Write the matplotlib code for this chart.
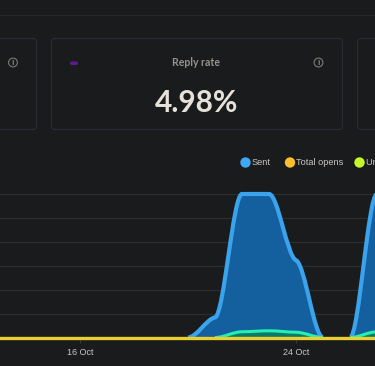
import numpy as np
import matplotlib
matplotlib.use("Agg")

import matplotlib.pyplot as plt
from matplotlib.patches import FancyBboxPatch, PathPatch, Circle
from matplotlib.path import Path

W, H = 375, 366
BG = "#1a1b1d"

days = [12, 13, 14, 15, 16, 17, 18, 19, 20, 21, 22, 23, 24, 25, 26, 27, 28]
sent = [0, 0, 0, 0, 0, 0, 0, 0, 0, 84, 600, 600, 323, 0, 0, 600, 600]
teal = [0, 0, 0, 0, 0, 0, 0, 0, 0, 0, 24, 28, 22, 0, 0, 24, 28]
opens = [0] * len(days)

grid_values = [100, 200, 300, 400, 500, 600]
tick_days = [16, 24]
tick_labels = ["16 Oct", "24 Oct"]
legend_names = ["Sent", "Total opens", "Unique opens"]
legend_colors = ["#3fa9f5", "#fdbd2c", "#c4f82a"]
card_title = "Reply rate"
card_value = "4.98%"


def smooth_path(x, y, skip_zero, flat=0.15):
    # curve through the points, tangents nearly flat like the original chart
    x = np.array(x, dtype=float)
    y = np.array(y, dtype=float)
    d = np.diff(y) / np.diff(x)
    m = np.zeros(len(x))
    for i in range(1, len(x) - 1):
        if d[i - 1] * d[i] > 0:
            m[i] = flat * 2 * d[i - 1] * d[i] / (d[i - 1] + d[i])
    verts = []
    codes = []
    last = None
    for i in range(len(x) - 1):
        # stretches at zero are left out of the line, the yellow one covers them
        if skip_zero and y[i] == 0 and y[i + 1] == 0:
            continue
        if last != i:
            verts.append((x[i], y[i]))
            codes.append(Path.MOVETO)
        h = (x[i + 1] - x[i]) / 3
        verts += [(x[i] + h, y[i] + m[i] * h),
                  (x[i + 1] - h, y[i + 1] - m[i + 1] * h),
                  (x[i + 1], y[i + 1])]
        codes += [Path.CURVE4] * 3
        last = i + 1
    return verts, codes


def draw_series(ax, x, y, line, fill, lw, z):
    verts, codes = smooth_path(x, y, False)
    area = Path(verts + [(x[-1], 0), (x[0], 0), (x[0], 0)],
                codes + [Path.LINETO, Path.LINETO, Path.CLOSEPOLY])
    ax.add_patch(PathPatch(area, facecolor=fill, edgecolor="none", zorder=z))
    verts, codes = smooth_path(x, y, True)
    ax.add_patch(PathPatch(Path(verts, codes), facecolor="none", edgecolor=line,
                           lw=lw, zorder=z + 1, capstyle="butt"))


fig = plt.figure(figsize=(W / 100, H / 100), dpi=100, facecolor=BG)

# page layer, in pixels
page = fig.add_axes([0, 0, 1, 1])
page.set_xlim(0, W)
page.set_ylim(H, 0)
page.axis("off")

page.plot([0, W], [14.5, 14.5], color="#25272d", lw=0.8)

for x0, x1 in [(-60, 36.5), (51.5, 342.5), (357.5, 460)]:
    page.add_patch(FancyBboxPatch((x0, 38.5), x1 - x0, 91,
                                  boxstyle="round,pad=0,rounding_size=4",
                                  lw=0.8, ec="#2a2c33", fc="none"))

page.add_patch(FancyBboxPatch((70, 61.5), 8, 3.5, boxstyle="round,pad=0,rounding_size=1.7",
                              lw=0, fc="#5c1d8f"))
page.text(196.5, 62, card_title, color="#97928a", fontsize=7.6, fontweight="bold",
          family="Lato", ha="center", va="center")
page.text(196.5, 103, card_value, color="#e6e2da", fontsize=21.5, fontweight="bold",
          family="Lato", ha="center", va="center")

for cx in [13, 318.5]:
    page.add_patch(Circle((cx, 62.5), 4.4, fc="none", ec="#7d7a74", lw=0.8))
    page.text(cx, 62.7, "i", color="#7d7a74", fontsize=5, fontweight="bold",
              family="DejaVu Sans", ha="center", va="center")

legend_x = [245.5, 290, 359.5]
for lx, name, col in zip(legend_x, legend_names, legend_colors):
    page.add_patch(Circle((lx, 162.5), 5.2, fc=col, ec="none"))
    page.text(lx + 6.5, 162.7, name, color="#c9c7c2", fontsize=6.6,
              family="Liberation Sans", ha="left", va="center")

# chart layer: 27 px per day, 16 Oct at x=80, zero at y=337.5
bottom_px = 340
top_px = 180
chart = fig.add_axes([0, (H - bottom_px) / H, 1, (bottom_px - top_px) / H])
chart.patch.set_alpha(0)
chart.set_xlim(16 - 80 / 27, 16 + (W - 80) / 27)
per_px = 600 / 143.5
chart.set_ylim(-(bottom_px - 337.5) * per_px, (337.5 - top_px) * per_px)
for side in chart.spines.values():
    side.set_visible(False)

for v in grid_values:
    chart.axhline(v, color="#2d2e30", lw=0.8, zorder=1)

draw_series(chart, days, sent, "#3ba3ec", "#14609f", 3, 2)
draw_series(chart, days, teal, "#25efb2", "#0c7a6a", 2.2, 4)
chart.plot(days, opens, color="#e9cf30", lw=2.4, zorder=7, clip_on=False)
chart.set_xticks(tick_days)
chart.set_xticklabels(tick_labels, color="#c9c7c2", fontsize=6.5, family="Liberation Sans")
chart.set_yticks([])
chart.tick_params(axis="x", length=2, width=0.7, color="#3a3b3e", pad=3.5)

plt.savefig("out.png", dpi=100, facecolor=BG)
plt.close()
